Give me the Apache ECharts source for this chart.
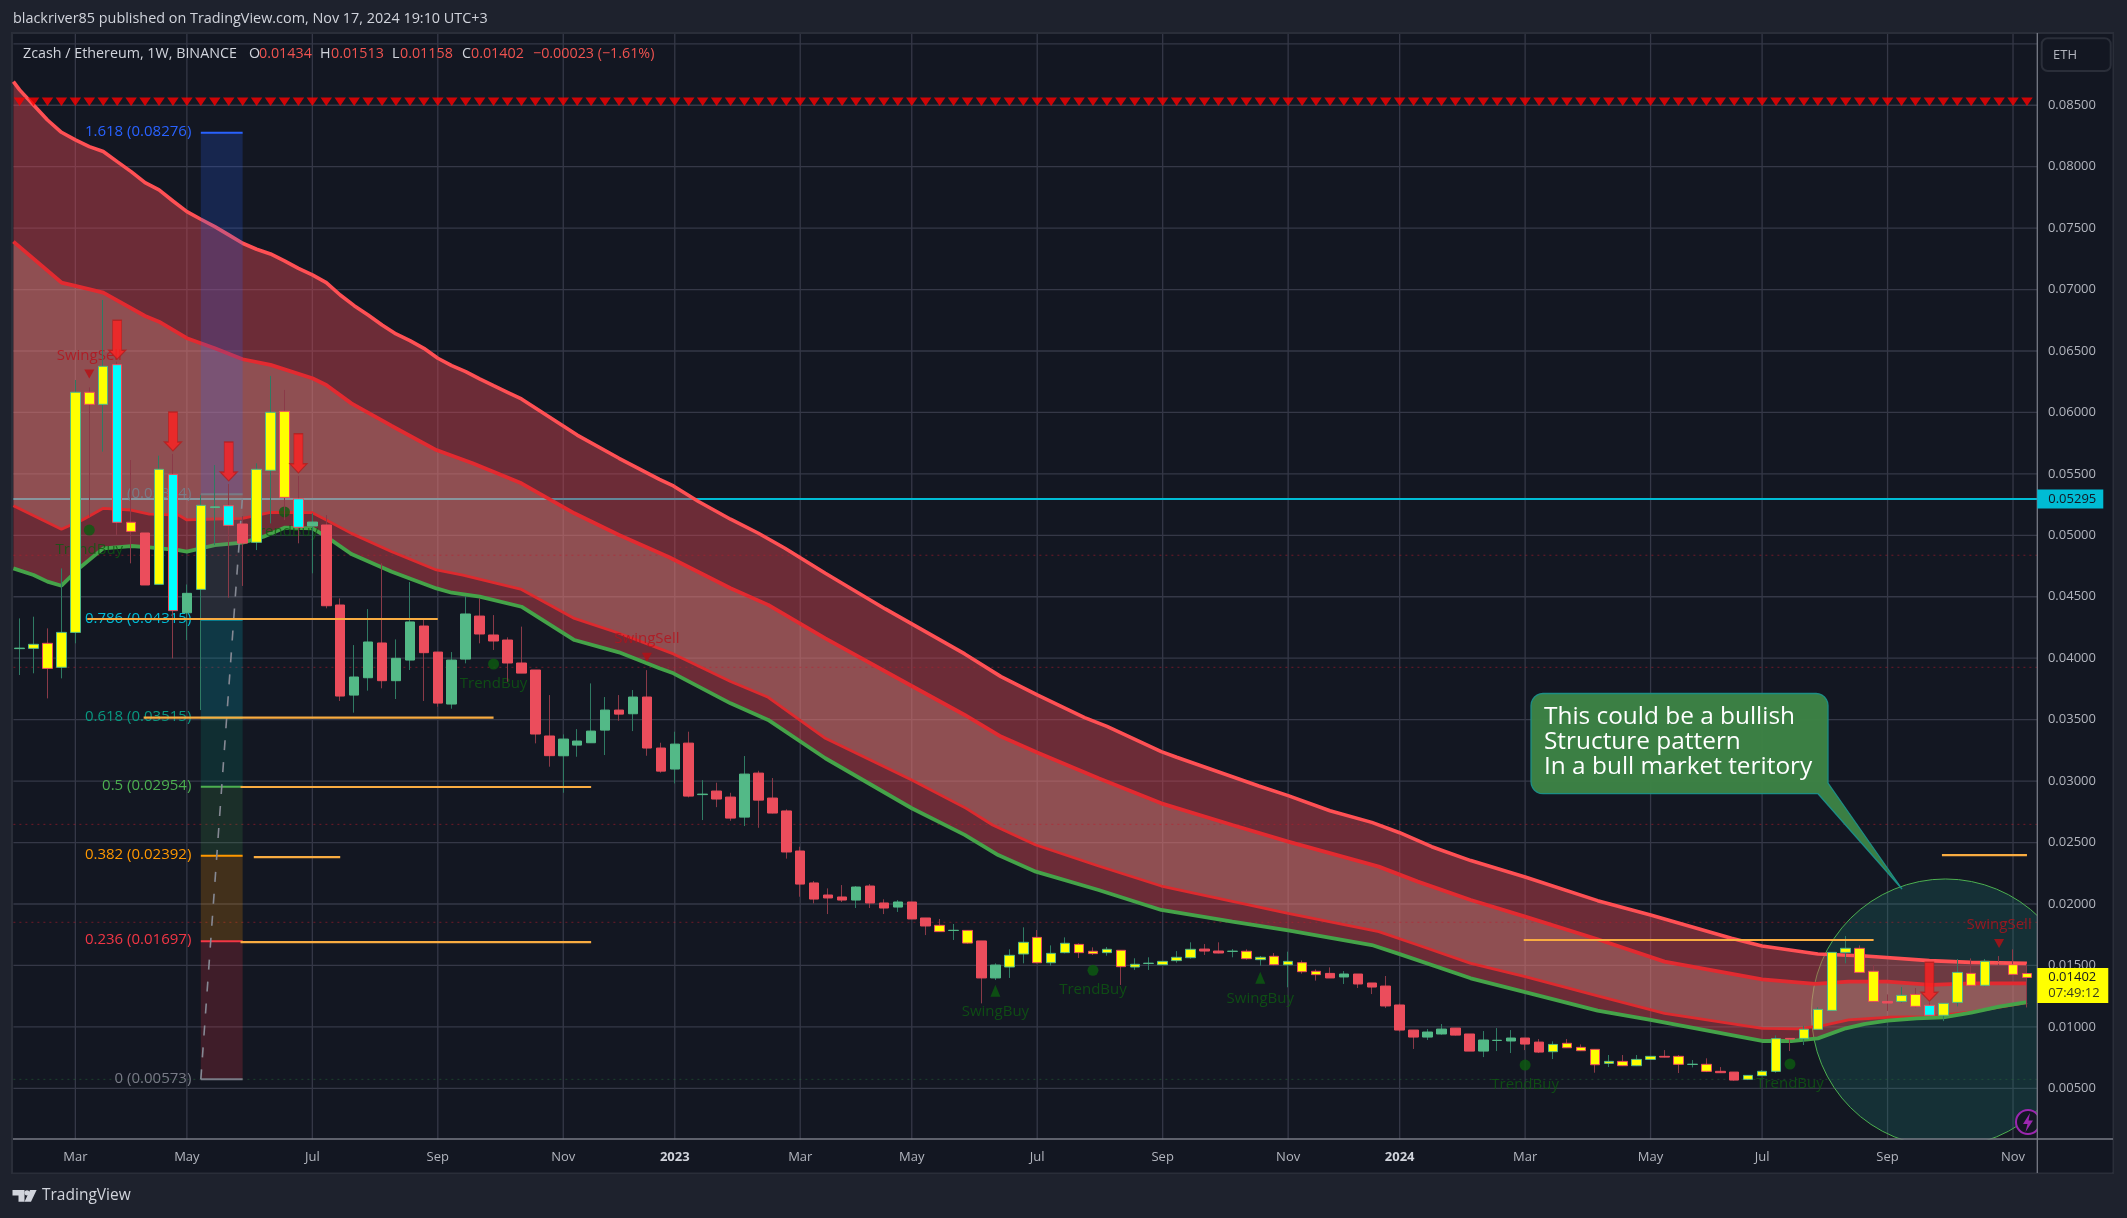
<!DOCTYPE html>
<html><head><meta charset="utf-8">
<style>html,body{margin:0;padding:0;background:#1e222d}#c{width:2127px;height:1218px}</style>
<script src="https://cdn.jsdelivr.net/npm/echarts@6/dist/echarts.min.js"></script>
</head><body><div id="c"></div>
<script>
const FONT='"Open Sans"';
// --- weekly OHLC, in 1e-5 ETH ---
const opens=[4078,4080,4121,3926,4210,6164,6066,6389,5106,5019,
4601,5496,4370,4560,5226,5241,5092,4943,5529,6009,
5298,5076,5084,4433,3700,3841,4124,3817,3985,4262,
4050,3627,3993,4343,4189,4148,3961,3904,3367,3206,
3293,3312,3415,3578,3548,3684,3269,3098,3309,2890,
2919,2870,2707,3065,2862,2757,2431,2171,2073,2057,
2032,2146,2008,1975,2016,1886,1826,1784,1785,1699,
1398,1487,1593,1728,1522,1604,1671,1615,1604,1623,
1487,1516,1506,1539,1563,1633,1617,1614,1615,1547,
1574,1506,1522,1452,1435,1406,1430,1357,1332,1178,
974,917,942,990,942,803,889,885,909,876,
798,866,833,817,703,719,684,735,760,760,
694,695,638,632,573,603,638,906,906,980,
1134,1606,1639,1452,1207,1207,1264,1175,1094,1199,
1435,1338,1525,1506,1434];
const closes=[4082,4113,3917,4210,6164,6066,6375,5106,5032,4596,
5537,4387,4528,5244,5232,5081,4937,5537,6001,5309,
5065,5108,4427,3692,3847,4132,3817,3999,4295,4045,
3635,3985,4360,4197,4140,3961,3879,3383,3207,3342,
3326,3407,3578,3545,3684,3269,3081,3301,2878,2894,
2854,2699,3057,2845,2740,2423,2162,2040,2049,2032,
2138,2008,1967,2016,1878,1821,1775,1786,1682,1398,
1503,1582,1688,1522,1598,1680,1604,1596,1631,1490,
1509,1518,1533,1566,1631,1617,1601,1616,1555,1566,
1506,1533,1449,1425,1398,1430,1349,1324,1170,974,
917,958,982,933,803,893,891,909,860,795,
857,830,806,692,719,684,735,760,754,695,
696,638,627,567,605,638,904,901,980,1142,
1606,1639,1443,1207,1194,1256,1167,1094,1191,1443,
1338,1533,1519,1427,1402];
const lows=[3863,3877,3673,3836,4121,5152,5681,5003,4772,4596,
4601,3999,4148,3578,4921,4493,4588,4880,5097,5125,
4935,4691,4406,3652,3557,3736,3755,3668,3904,3652,
3605,3589,3958,4121,4067,3809,3879,3307,3117,2905,
3198,3312,3212,3491,3407,3206,3068,2981,2867,2683,
2788,2677,2634,2620,2737,2369,2059,2005,1918,2016,
1967,1967,1918,1935,1878,1747,1775,1707,1677,1191,
1381,1398,1517,1517,1498,1598,1560,1585,1579,1341,
1463,1463,1503,1522,1555,1585,1598,1566,1547,1498,
1501,1322,1433,1376,1398,1349,1316,1267,1153,960,
820,893,936,930,803,754,803,787,811,787,
738,828,803,627,673,681,681,733,752,624,
670,632,624,562,567,600,627,803,852,974,
1129,1517,1441,1202,1129,1197,1159,1088,1047,1167,
1332,1330,1503,1422,1158];
const highs=[4324,4338,4243,4731,6264,6204,6915,6413,5613,5019,
5648,5662,4600,5328,5572,5418,5157,5586,6297,6183,
5483,5179,5165,4487,4107,4400,4772,4153,4620,4311,
4050,4050,4506,4487,4351,4170,4257,3904,3700,3380,
3423,3795,3684,3700,3741,3903,3312,3402,3402,3008,
2987,2905,3204,3084,3025,2770,2466,2187,2127,2154,
2146,2162,2038,2032,2016,1886,1878,1837,1785,1699,
1517,1631,1810,1788,1663,1728,1680,1647,1650,1623,
1558,1566,1533,1617,1688,1674,1688,1633,1631,1577,
1601,1612,1541,1468,1484,1454,1430,1357,1414,1190,
974,982,1023,990,942,966,990,974,909,901,
882,901,857,817,771,771,771,760,811,771,
730,744,673,632,605,649,931,906,1009,1159,
1606,1739,1663,1503,1264,1324,1316,1199,1191,1552,
1557,1552,1576,1631,1513];
// n = normal, y = yellow body, c = cyan body
const barFill=("nyyyyyycyn"+"ycnyncnyyy"+"cnnnnnnnnn"+"nnnnnnnnnn"+"nnnnnnnnnn"+"nnnnnnnnnn"+"nnnnnnynyn"+"nyyyyyyyyy"+"ynyyynnnyy"+"yyyynnnnnn"+"nnnnnnnnnn"+"yyyyyyyyny"+"nynnyyynyy"+"yyyynyycyy"+"yyyyy").split("");
// --- x axis ---
const tickIdx=[4,12,21,30,39,47,56,64,73,82,91,99,108,117,125,134,143];
const tickLabels=["Mar","May","Jul","Sep","Nov","2023","Mar","May","Jul","Sep","Nov","2024","Mar","May","Jul","Sep","Nov"];
const startWeek=Date.UTC(2022,1,7);
const categories=opens.map((_,i)=>new Date(startWeek+i*7*864e5).toISOString().slice(0,10));
const yTicks=[500,1000,1500,2000,2500,3000,3500,4000,4500,5000,5500,6000,6500,7000,7500,8000,8500,9000];
// --- band lines: bar position, value ---
const topLineX=[-0.445,0,1,2,3,4,5,6,7,8,9,10,11,12,13,14,15,16,17,18,19,20,21,22,23,24,25,26,27,28,29,30,31,32,33,34,35,36,40,43,45.9,46.9,48.7,51,53,54.9,57.8,62.1,64,67.8,70.4,73,76.4,78,81.9,83,88.9,91,94,97,99,101.3,104.1,108,113.2,117,122.8,125,129,132.4,137,140,144];
const topLineV=[8692,8625,8502,8380,8280,8218,8163,8123,8041,7960,7870,7811,7721,7634,7572,7512,7445,7377,7328,7290,7233,7173,7119,7057,6956,6869,6793,6712,6639,6585,6522,6441,6381,6332,6273,6218,6164,6110,5816,5627,5456,5402,5275,5131,5017,4895,4691,4401,4279,4035,3850,3701,3517,3445,3240,3194,2960,2882,2759,2664,2580,2466,2353,2220,2027,1910,1721,1658,1593,1577,1539,1525,1517];
const upperLineX=[-0.445,3,4,6,9,10,12,14,16,18,21,22,23.8,26.7,29.9,32.5,36,39.8,43,46.6,51,53.7,57.8,64,67.8,70.4,73,77.4,81.9,87,91,97.5,100.3,104.1,108,113.2,118,125,128.8,131.2,134,137.1,140,144];
const upperLineV=[7390,7057,7030,6975,6785,6739,6604,6522,6433,6387,6278,6224,6074,5890,5694,5586,5423,5179,5003,4822,4569,4434,4162,3774,3538,3362,3232,3023,2819,2643,2507,2304,2182,2032,1897,1713,1531,1387,1349,1368,1368,1341,1354,1354];
const lowerLineX=[-0.445,3,4.5,6,8,9.3,11.4,12,14,16,18,21,22,23.8,26.7,29.9,31.8,36,39.8,43,46.9,51,53.7,57.8,64,67.9,69.8,72.9,77.4,81.9,91,97.5,100.3,104.1,108,113.2,118,125,127.6,129.5,131.2,134,137.1,140,144];
const lowerLineV=[5241,5049,5125,5220,5206,5173,5165,5125,5133,5138,5187,5184,5125,5016,4867,4718,4677,4560,4324,4203,4035,3810,3682,3348,3009,2778,2643,2480,2309,2146,1924,1775,1666,1517,1409,1252,1110,988,983,1015,1056,1078,1083,1122,1197];
const greenLineX=[-0.445,1,2,3,4.4,6,8,9.3,11.4,12,14,16,17.5,19,21,22,23.8,26.7,29.9,31,33,36,39.8,43,45.9,46.9,51,53.7,57.8,64,67.8,70.2,72.9,77.4,81.9,87,91,97,99,104.1,108,113.2,117,125,127.1,129,131,132.3,134,136.1,138,140,142,144];
const greenLineV=[4731,4677,4623,4590,4745,4894,4913,4902,4880,4867,4921,4940,4989,5062,5057,4989,4848,4704,4568,4533,4501,4419,4148,4048,3918,3877,3633,3498,3186,2779,2562,2398,2263,2114,1951,1856,1785,1666,1592,1395,1282,1132,1056,885,885,906,988,1023,1050,1069,1077,1115,1164,1202];
// --- fibonacci tool ---
const fibStart=13, fibEnd=16;
const fibLevels=["1.618","1","0.786","0.618","0.5","0.382","0.236","0"];
const fibPrices=[8276,5334,4315,3515,2954,2392,1697,573];
const fibColors=["#2962ff","#787b86","#00bcd4","#089981","#4caf50","#ff9800","#f23645","#787b86"];
const fibFills=["rgba(41,98,255,.2)","rgba(120,123,134,.2)","rgba(0,188,212,.2)","rgba(8,153,129,.18)","rgba(76,175,80,.16)","rgba(255,152,0,.2)","rgba(242,54,69,.2)"];
// --- drawn orange levels ---
const levelValues=[4319,3516,2952,2382,1690,2398,1707];
const levelFrom=[4.85,8.9,15.85,16.8,15.85,137.9,107.9];
const levelTo=[30,34,41,23,41,144,133];
const dottedReds=[4838,3926,2648,1851];
const dottedGreen=573;
// --- signals ---
const sellSignalRow=8528;
const arrowIdx=[7,11,15,20,137];
const arrowV=[6592,5845,5601,5667,1368];
const swingSellIdx=[5,45,142];
const swingSellV=[6313,4007,1679];
const trendBuyIdx=[5,19,34,77,108,127];
const trendBuyV=[5043,5190,3953,1460,689,697];
const swingBuyIdx=[70,89];
const swingBuyV=[1294,1400];
const resistance=5295, resistanceLabel="0.05295";
const lastPrice=1402, lastLabel="0.01402", countdown="07:49:12";
const circleIdx=138.15, circleV=1113;
const noteLines=["This could be a bullish","Structure pattern","In a bull market teritory"];

const P=v=>v/1e5;
const LEFT=-0.445, RIGHT=144.74;
const UP="#53b987", DOWN="#eb4d5c";
const bodyColor={n:null,y:"#ffff00",c:"#00ffff"};
const axisIx=1;
function overlay(z,build){return {type:"custom",xAxisIndex:axisIx,yAxisIndex:0,z,clip:false,silent:true,animation:false,data:[[0,0]],
  renderItem:(p,api)=>({type:"group",children:build(api)})};}
const seg=(a,b,stroke,w,dash)=>({type:"line",shape:{x1:a[0],y1:a[1],x2:b[0],y2:b[1]},style:{stroke,lineWidth:w,lineDash:dash||null,fill:null}});
const txt=(x,y,text,fill,font,align)=>({type:"text",style:{legacy:false,x,y,text,fill,font,align:align||"left",verticalAlign:"middle"}});
const pts=(xs,vs,api)=>xs.map((x,i)=>api.coord([x,P(vs[i])]));
const band=(xa,va,xb,vb,fill)=>api=>[{type:"polygon",shape:{points:pts(xa,va,api).concat(pts(xb,vb,api).reverse())},style:{fill}}];
const lineS=(xs,vs,color,w,z)=>({type:"line",xAxisIndex:axisIx,yAxisIndex:0,z,silent:true,animation:false,symbol:"none",data:xs.map((x,i)=>[x,P(vs[i])]),lineStyle:{color,width:w}});
const marker=(idx,vs,symbol,size,color,rot,extra)=>Object.assign({type:"scatter",xAxisIndex:axisIx,yAxisIndex:0,z:8,silent:true,animation:false,symbol,symbolSize:size,symbolRotate:rot||0,itemStyle:{color},data:idx.map((x,i)=>[x,P(vs[i])])},extra||{});
const sigLabel=(text,pos,dist,color)=>({z:5,label:{show:true,position:pos,distance:dist,formatter:text,color,fontSize:15,fontFamily:FONT}});

const wickData=opens.map((o,i)=>{const col=closes[i]>=o?"#2f7a63":"#8a3a48";
 return {value:[P(o),P(closes[i]),P(lows[i]),P(highs[i])],itemStyle:{color:col,color0:col,borderColor:col,borderColor0:col,borderWidth:1}};});
const bodyData=opens.map((o,i)=>{const c=closes[i],edge=c>=o?UP:DOWN,fill=bodyColor[barFill[i]]||edge;
 return {value:[P(o),P(c),P(Math.min(o,c)),P(Math.max(o,c))],itemStyle:{color:fill,color0:fill,borderColor:edge,borderColor0:edge,borderWidth:1}};});

const series=[
 overlay(1,api=>{
  const out=[];
  yTicks.forEach(v=>out.push(seg(api.coord([LEFT,P(v)]),api.coord([RIGHT,P(v)]),"#353847",1.3)));
  tickIdx.forEach(i=>out.push(seg(api.coord([i,.0908]),api.coord([i,0]),"#353847",1.3)));
  return out;}),
 overlay(2,api=>{const c=api.coord([circleIdx,P(circleV)]);
  return [{type:"circle",shape:{cx:c[0],cy:c[1],r:134},style:{fill:"rgba(30,150,136,.2)",stroke:"#4caf50",lineWidth:1}},
   seg(api.coord([LEFT,P(resistance)]),api.coord([RIGHT,P(resistance)]),"#00bcd4",2)];}),
 overlay(3,band(topLineX,topLineV,upperLineX,upperLineV,"rgba(218,72,82,.45)")),
 overlay(3,band(upperLineX,upperLineV,lowerLineX,lowerLineV,"rgba(232,120,118,.58)")),
 overlay(3,band(lowerLineX,lowerLineV,greenLineX,greenLineV,"rgba(218,72,82,.45)")),
 overlay(4,api=>dottedReds.map(v=>seg(api.coord([LEFT,P(v)]),api.coord([RIGHT,P(v)]),"rgba(190,30,45,.55)",1,[2,4]))
   .concat([seg(api.coord([LEFT,P(dottedGreen)]),api.coord([RIGHT,P(dottedGreen)]),"rgba(40,110,60,.5)",1,[2,4])])),
 lineS(topLineX,topLineV,"#ff5054",3.6,4),
 lineS(upperLineX,upperLineV,"#e22a30",3.8,4),
 lineS(lowerLineX,lowerLineV,"#dd2a2e",2.8,4),
 lineS(greenLineX,greenLineV,"#45a349",3.8,4),
 overlay(5,api=>{const out=[];
  fibFills.forEach((f,i)=>{const a=api.coord([fibStart,P(fibPrices[i])]),b=api.coord([fibEnd,P(fibPrices[i+1])]);
   out.push({type:"rect",shape:{x:a[0],y:a[1],width:b[0]-a[0],height:b[1]-a[1]},style:{fill:f}});});
  fibLevels.forEach((l,i)=>{const v=P(fibPrices[i]);
   out.push(seg(api.coord([fibStart,v]),api.coord([fibEnd,v]),fibColors[i],2));
   const p=api.coord([fibStart,v]);
   out.push(txt(p[0]-9.5,p[1]-1,l+" ("+(v.toFixed(5))+")",fibColors[i],"15px "+FONT,"right"));});
  out.push(seg(api.coord([fibStart,P(fibPrices[7])]),api.coord([fibEnd,P(fibPrices[1])]),"#868994",1.6,[10,12]));
  return out;}),
 {type:"candlestick",xAxisIndex:0,yAxisIndex:0,z:6,silent:true,animation:false,barWidth:1,data:wickData},
 {type:"candlestick",xAxisIndex:0,yAxisIndex:0,z:7,silent:true,animation:false,barWidth:10,data:bodyData},
 marker(opens.map((_,i)=>i),opens.map(()=>sellSignalRow),"triangle",[11.5,8.5],"#ff0000",180),
 marker(arrowIdx,arrowV,"path://M4,0H13V30H17L8.5,39L0,30H4Z",[17,39],"#ff2020",0,{itemStyle:{color:"#ff2020",borderColor:"#b21e1e",borderWidth:1}}),
 marker(swingSellIdx,swingSellV,"triangle",[10,9],"#b80f14",180,sigLabel("SwingSell","top",6.5,"#b5121c")),
 marker(trendBuyIdx,trendBuyV,"circle",[11,11],"#0c5c10",0,sigLabel("TrendBuy","bottom",6.5,"#0e5a12")),
 marker(swingBuyIdx,swingBuyV,"triangle",[10,12],"#0c5c10",0,sigLabel("SwingBuy","bottom",8,"#0e5a12")),
 overlay(9,api=>levelValues.map((v,i)=>seg(api.coord([levelFrom[i],P(v)]),api.coord([levelTo[i],P(v)]),"#f9ac41",2.2))),
 overlay(60,api=>{
  const c=api.coord([RIGHT,P(resistance)]), y=api.coord([RIGHT,P(lastPrice)]);
  return [
   {type:"rect",shape:{x:c[0],y:c[1]-9.5,width:66,height:19},style:{fill:"#00bcd4"}},
   txt(c[0]+11,c[1],resistanceLabel,"#131722","13px "+FONT),
   {type:"rect",shape:{x:y[0],y:y[1]-9.5,width:71,height:35},style:{fill:"#ffff00"}},
   txt(y[0]+11,y[1],lastLabel,"#131722","13px "+FONT),
   txt(y[0]+11,y[1]+16,countdown,"#3a3d22","13px "+FONT)];})
];

// callout outline with rounded corners
function callout(){
 const L=1531,R=1828,T=693.5,B=793.7,r=12,out=[];
 const arc=(cx,cy,a0)=>{for(let k=0;k<=6;k++){const a=a0+k*Math.PI/12;out.push([cx+r*Math.cos(a),cy+r*Math.sin(a)]);}};
 arc(L+r,T+r,Math.PI); arc(R-r,T+r,1.5*Math.PI);
 out.push([R,783],[1902,889],[1818,B]);
 out.push([L+r,B]); arc(L+r,B-r,Math.PI/2);
 return out;
}
const gray="#d1d4dc", red="#ef5350";
const head=(x,t,fill)=>({type:"text",z:70,style:{text:t,x,y:54,fill,font:"14.3px "+FONT,verticalAlign:"middle"}});
const graphic=[
 {type:"rect",z:0,shape:{x:12,y:33,width:2101,height:1140},style:{fill:"#131722",stroke:"#2a2e39",lineWidth:2}},
 {type:"circle",z:30,shape:{cx:2028,cy:1122,r:12},style:{fill:"#131722",stroke:"#9c27b0",lineWidth:2}},
 {type:"polygon",z:31,shape:{points:[[2030,1113],[2023,1124],[2027.5,1124],[2025.5,1132],[2033,1120.5],[2028.5,1120.5]]},style:{fill:"#9c27b0"}},
 {type:"rect",z:40,shape:{x:2037.5,y:34,width:75,height:1138},style:{fill:"#131722"}},
 {type:"rect",z:40,shape:{x:13,y:1139.5,width:2099,height:33},style:{fill:"#131722"}},
 {type:"line",z:41,shape:{x1:2037.3,y1:33,x2:2037.3,y2:1173},style:{stroke:"#787b86",lineWidth:1.3}},
 {type:"line",z:41,shape:{x1:13,y1:1139,x2:2113,y2:1139},style:{stroke:"#787b86",lineWidth:1.3}},
 {type:"rect",z:42,shape:{x:2041.7,y:38.3,width:69,height:32.7,r:6},style:{fill:"#131722",stroke:"#2a2e39",lineWidth:2}},
 {type:"text",z:43,style:{text:"ETH",x:2053,y:55,fill:"#b2b5be",font:"13px "+FONT,verticalAlign:"middle"}},
 {type:"text",z:70,style:{text:"blackriver85 published on TradingView.com, Nov 17, 2024 19:10 UTC+3",x:13,y:19,fill:gray,font:"14.4px "+FONT,verticalAlign:"middle"}},
 head(23,"Zcash / Ethereum, 1W, BINANCE",gray),
 head(249,"O",gray),head(259,"0.01434",red),
 head(320,"H",gray),head(331,"0.01513",red),
 head(392,"L",gray),head(400,"0.01158",red),
 head(462,"C",gray),head(471,"0.01402",red),
 head(533,"−0.00023 (−1.61%)",red),
 {type:"polygon",z:70,shape:{points:callout()},style:{fill:"#3d8345",stroke:"#1c9088",lineWidth:1.3,opacity:.97}},
 {type:"text",z:71,style:{text:noteLines[0],x:1544,y:717,fill:"#ffffff",font:"24.4px "+FONT,verticalAlign:"middle"}},
 {type:"text",z:71,style:{text:noteLines[1],x:1544,y:742,fill:"#ffffff",font:"24.4px "+FONT,verticalAlign:"middle"}},
 {type:"text",z:71,style:{text:noteLines[2],x:1544,y:767.5,fill:"#ffffff",font:"24.4px "+FONT,verticalAlign:"middle"}},
 {type:"polygon",z:70,shape:{points:[[12.5,1190],[24.5,1190],[24.5,1201.7],[18.5,1201.7],[18.5,1195.5],[12.5,1195.5]]},style:{fill:gray}},
 {type:"circle",z:70,shape:{cx:27,cy:1192.8,r:2.6},style:{fill:gray}},
 {type:"polygon",z:70,shape:{points:[[30,1190],[36.6,1190],[31,1201.7],[24.5,1201.7]]},style:{fill:gray}},
 {type:"text",z:70,style:{text:"TradingView",x:42,y:1196,fill:gray,font:"15.5px "+FONT,verticalAlign:"middle"}}
];

const chart=echarts.init(document.getElementById("c"),null,{renderer:"canvas",width:2127,height:1218});
chart.setOption({
 animation:false,backgroundColor:"#1e222d",graphic:{elements:graphic},
 grid:{left:12.63,width:2021.3,top:43.8,height:1105.94,containLabel:false},
 xAxis:[
  {type:"category",data:categories,boundaryGap:true,z:50,axisLine:{show:false},axisTick:{show:false},splitLine:{show:false},
   axisLabel:{interval:i=>tickIdx.includes(i),margin:1,color:"#b2b5be",fontSize:13,fontFamily:FONT,
    formatter:v=>{const k=tickIdx.indexOf(categories.indexOf(v));const t=k<0?"":tickLabels[k];return /^20/.test(t)?"{b|"+t+"}":t;},
    rich:{b:{fontWeight:"bold",color:"#d1d4dc",fontSize:13,fontFamily:FONT}}}},
  {type:"value",min:-0.5,max:144.5,show:false,splitLine:{show:false}}
 ],
 yAxis:{type:"value",position:"right",min:0,max:.09,interval:.005,z:50,axisLine:{show:false},axisTick:{show:false},splitLine:{show:false},
  axisLabel:{margin:14,color:"#b2b5be",fontSize:13,fontFamily:FONT,formatter:v=>(v>.0001&&v<.0895)?v.toFixed(5):""}},
 series
});
</script></body></html>
